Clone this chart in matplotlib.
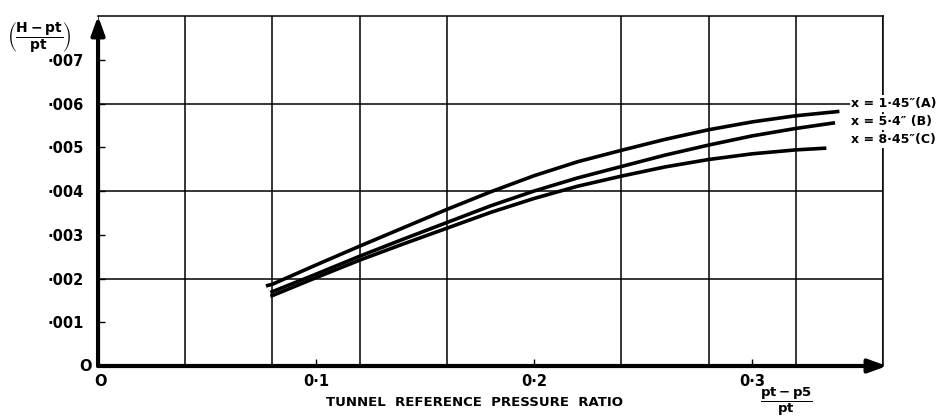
import matplotlib
matplotlib.use("Agg")
import matplotlib.pyplot as plt
from matplotlib.ticker import MultipleLocator

plt.rcParams["font.family"] = ["DejaVu Sans"]
plt.rcParams["mathtext.fontset"] = "dejavusans"

# curve readings (pressure ratio, (H-pt)/pt)
x_a = [0.077, 0.08, 0.10, 0.12, 0.14, 0.16, 0.18, 0.20, 0.22, 0.24, 0.26, 0.28, 0.30, 0.32, 0.340]
y_a = [0.00183, 0.00187, 0.00231, 0.00274, 0.00316, 0.00358, 0.00398, 0.00435, 0.00467, 0.00493,
       0.00518, 0.00540, 0.00558, 0.00572, 0.00582]
x_b = [0.079, 0.08, 0.10, 0.12, 0.14, 0.16, 0.18, 0.20, 0.22, 0.24, 0.26, 0.28, 0.30, 0.32, 0.338]
y_b = [0.00168, 0.00170, 0.00210, 0.00251, 0.00290, 0.00328, 0.00366, 0.00400, 0.00430, 0.00456,
       0.00482, 0.00505, 0.00526, 0.00543, 0.00556]
x_c = [0.079, 0.08, 0.10, 0.12, 0.14, 0.16, 0.18, 0.20, 0.22, 0.24, 0.26, 0.28, 0.30, 0.32, 0.334]
y_c = [0.00160, 0.00161, 0.00202, 0.00242, 0.00279, 0.00315, 0.00351, 0.00383, 0.00411, 0.00434,
       0.00455, 0.00472, 0.00485, 0.00494, 0.00498]

curve_labels = ["x = 1·45\u2033(A)", "x = 5·4\u2033 (B)", "x = 8·45\u2033(C)"]
label_y = [0.00600, 0.00558, 0.00517]

x_ticks = [0.1, 0.2, 0.3]
x_ticklabels = ["0·1", "0·2", "0·3"]
y_ticks = [0.001, 0.002, 0.003, 0.004, 0.005, 0.006, 0.007]
y_ticklabels = ["·001", "·002", "·003", "·004", "·005", "·006", "·007"]

fig = plt.figure(figsize=(9.4, 4.18), dpi=100)
ax = fig.add_axes([0.1043, 0.1244, 0.8351, 0.8373])
ax.set_xlim(0, 0.36)
ax.set_ylim(0, 0.008)

# grid: verticals every 0.04, horizontals every 0.002
ax.xaxis.set_minor_locator(MultipleLocator(0.04))
ax.grid(which="minor", axis="x", color="black", lw=1.1)
for gy in y_ticks[1::2]:
    ax.axhline(gy, color="black", lw=1.1, zorder=1)
ax.tick_params(which="minor", length=0)

ax.set_xticks(x_ticks)
ax.set_xticklabels(x_ticklabels)
ax.set_yticks(y_ticks)
ax.set_yticklabels(y_ticklabels)
ax.tick_params(which="major", direction="in", length=5, width=1, labelsize=10.5)
ax.tick_params(axis="x", pad=6)
ax.tick_params(axis="y", pad=10)
for t in ax.get_xticklabels() + ax.get_yticklabels():
    t.set_fontweight("bold")

for side in ["left", "bottom"]:
    ax.spines[side].set_visible(False)
for side in ["top", "right"]:
    ax.spines[side].set_linewidth(1.1)

# thick axes with arrow heads
arrow = dict(arrowstyle="-|>,head_length=0.55,head_width=0.2", lw=3, color="black",
             mutation_scale=20, shrinkA=0, shrinkB=0)
ax.annotate("", xy=(0, 1.0), xytext=(0, 0), xycoords="axes fraction", arrowprops=arrow,
            annotation_clip=False, zorder=5)
ax.annotate("", xy=(1.005, 0), xytext=(0, 0), xycoords="axes fraction", arrowprops=arrow,
            annotation_clip=False, zorder=5)

for xs, ys in [(x_a, y_a), (x_b, y_b), (x_c, y_c)]:
    ax.plot(xs, ys, color="black", lw=2.6, solid_capstyle="butt", solid_joinstyle="round",
            zorder=4)

for lab, ly in zip(curve_labels, label_y):
    ax.text(0.3455, ly, lab, ha="left", va="center", fontsize=9, fontweight="bold",
            bbox=dict(facecolor="white", edgecolor="none", pad=1.2), zorder=6, clip_on=False)

ax.annotate("O", xy=(0, 0), xytext=(-9, 0), textcoords="offset points", ha="center",
            va="center", fontsize=10.5, fontweight="bold")
ax.annotate("O", xy=(0, 0), xytext=(2, -11), textcoords="offset points", ha="center",
            va="center", fontsize=10.5, fontweight="bold")

fig.text(39 / 940, 1 - 38 / 418, r"$\left(\dfrac{\mathbf{H - pt}}{\mathbf{pt}}\right)$",
         ha="center", va="center", fontsize=10)
fig.text(474 / 940, 1 - 402 / 418, "TUNNEL  REFERENCE  PRESSURE  RATIO", ha="center",
         va="center", fontsize=9.5, fontweight="bold")
fig.text(786 / 940, 1 - 402 / 418, r"$\dfrac{\mathbf{pt - p5}}{\mathbf{pt}}$",
         ha="center", va="center", fontsize=9.5)

fig.savefig("out.png", dpi=100)
